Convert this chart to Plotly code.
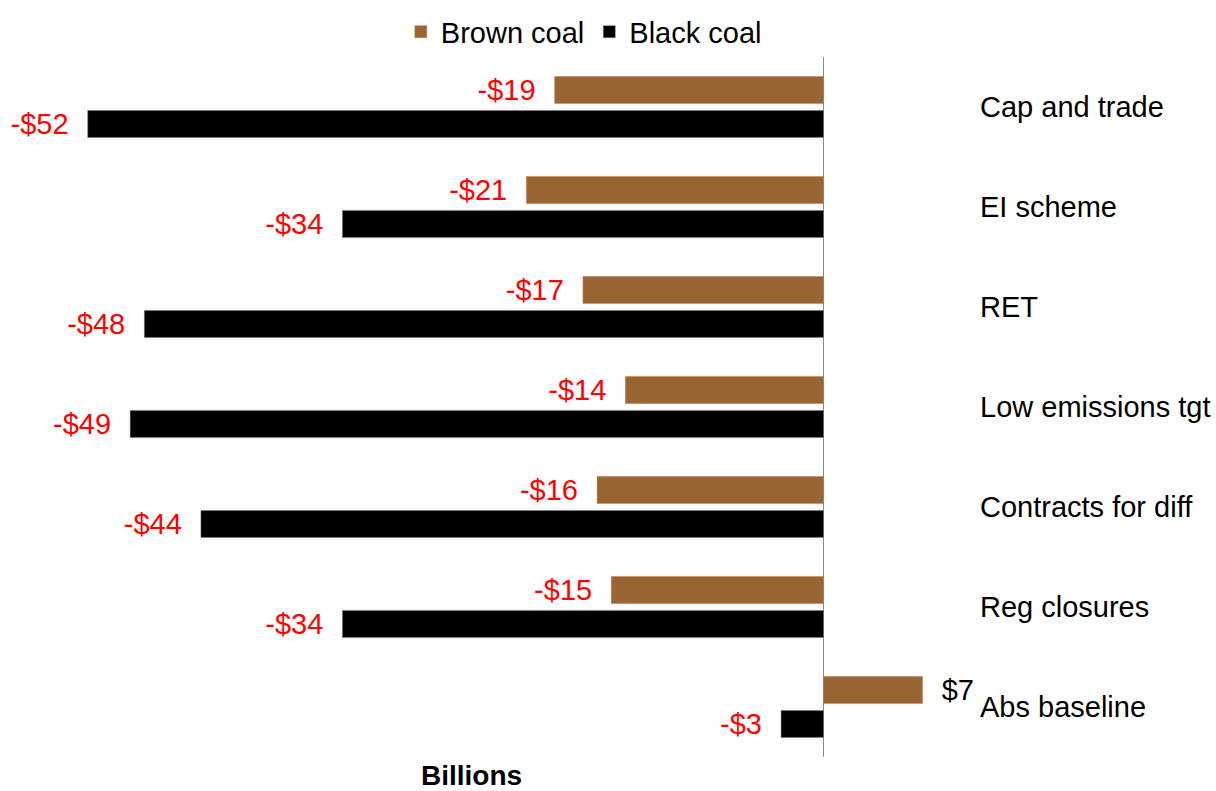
import plotly.graph_objects as go

# Policy scenarios (top to bottom) and the change in value per coal type, $ billions
scenarios = ["Cap and trade", "EI scheme", "RET", "Low emissions tgt",
             "Contracts for diff", "Reg closures", "Abs baseline"]
brown_coal = [-19, -21, -17, -14, -16, -15, 7]
black_coal = [-52, -34, -48, -49, -44, -34, -3]

FONT = "Liberation Sans, Arial, sans-serif"
SIZE = 29
NBSP = "\u00a0"


def money(v):
    return f"-${abs(v)}" if v < 0 else f"${v}"


def labels(vals):
    # pad the label away from the bar end
    return [money(v) + NBSP * 2 if v < 0 else NBSP * 2 + money(v) for v in vals]


def colours(vals):
    return ["#ff0000" if v < 0 else "#000000" for v in vals]


fig = go.Figure()
fig.add_trace(go.Bar(
    name="Brown coal", y=scenarios, x=brown_coal, orientation="h",
    marker=dict(color="#996633", line=dict(color="#b08050", width=0.5)),
    text=labels(brown_coal), textposition="outside", constraintext="none",
    textfont=dict(family=FONT, size=SIZE, color=colours(brown_coal)),
    cliponaxis=False,
))
fig.add_trace(go.Bar(
    name="Black coal", y=scenarios, x=black_coal, orientation="h",
    marker=dict(color="#000000", line=dict(color="#808080", width=0.5)),
    text=labels(black_coal), textposition="outside", constraintext="none",
    textfont=dict(family=FONT, size=SIZE, color=colours(black_coal)),
    cliponaxis=False,
))

fig.update_layout(
    width=1216, height=791,
    margin=dict(l=0, r=251, t=57, b=34),
    paper_bgcolor="white", plot_bgcolor="white",
    barmode="group", bargap=0.32, bargroupgap=0.2,
    font=dict(family=FONT, size=SIZE, color="#000000"),
    showlegend=True,
    legend=dict(orientation="h", x=0.605, xanchor="center", y=1.036, yanchor="middle",
                font=dict(family=FONT, size=SIZE), itemwidth=30, traceorder="normal",
                bgcolor="rgba(0,0,0,0)"),
    xaxis=dict(range=[-58.2, 10.0], showgrid=False, showticklabels=False, ticks="",
               zeroline=True, zerolinecolor="#8c8c8c", zerolinewidth=1.2,
               showline=False),
    yaxis=dict(autorange="reversed", side="right", showgrid=False, ticks="",
               ticklen=0, ticklabelstandoff=14, showline=False,
               tickfont=dict(family=FONT, size=SIZE, color="#000000")),
    annotations=[dict(text="<b>Billions</b>", xref="paper", yref="paper",
                      x=471 / 965, y=-0.026, xanchor="center", yanchor="middle",
                      showarrow=False, font=dict(family=FONT, size=28, color="#000000"))],
)

fig.write_html("out.html")
